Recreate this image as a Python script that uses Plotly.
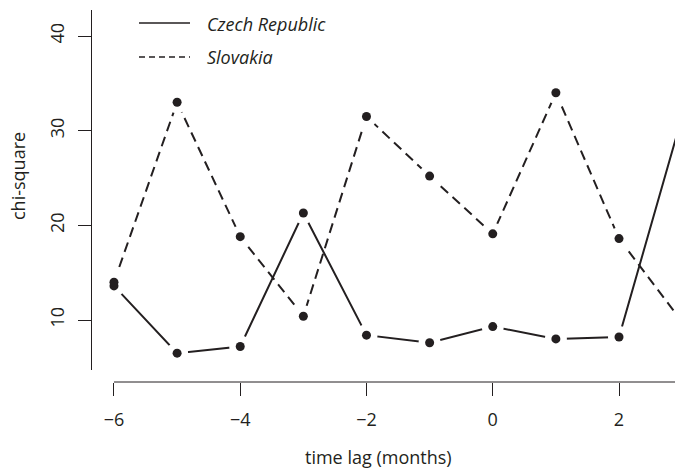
import plotly.graph_objects as go

# ---- data ----
lags = [-6, -5, -4, -3, -2, -1, 0, 1, 2, 3]
czech = [13.6, 6.5, 7.2, 21.3, 8.4, 7.6, 9.3, 8.0, 8.2, 31.5]
slovakia = [14.0, 33.0, 18.8, 10.4, 31.5, 25.2, 19.1, 34.0, 18.6, 9.8]
x_ticks = [-6, -4, -2, 0, 2]
y_ticks = [10, 20, 30, 40]
series_names = ["Czech Republic", "Slovakia"]

INK = "#231f20"
FONT = "Open Sans"
FS = 18

# plot geometry in pixels
W, H = 675, 469
ML, MR, MT, MB = 91, 0, 10, 87
PW = W - ML - MR
PH = H - MT - MB
X_RANGE = [-6.364, 2.887]
Y_RANGE = [4.718, 42.747]


def px(xp):
    return (xp - ML) / PW


def py(yp):
    return (H - MB - yp) / PH


fig = go.Figure()

# lines
fig.add_trace(go.Scatter(x=lags, y=czech, mode="lines", name=series_names[0],
                         line=dict(color=INK, width=2), showlegend=False))
fig.add_trace(go.Scatter(x=lags, y=slovakia, mode="lines", name=series_names[1],
                         line=dict(color=INK, width=2, dash="10px,6px"), showlegend=False))
# white halos to create the gaps around points (R type="b")
for ys in (czech, slovakia):
    fig.add_trace(go.Scatter(x=lags, y=ys, mode="markers", showlegend=False,
                             marker=dict(color="white", size=22, line=dict(width=0)),
                             hoverinfo="skip"))
# points
for ys, nm in ((czech, series_names[0]), (slovakia, series_names[1])):
    fig.add_trace(go.Scatter(x=lags, y=ys, mode="markers", name=nm, showlegend=False,
                             marker=dict(color=INK, size=9, line=dict(width=0))))

# x axis line (from first tick to right edge)
fig.add_shape(type="line", xref="x", yref="paper", x0=x_ticks[0], x1=X_RANGE[1],
              y0=0, y1=0, line=dict(color=INK, width=1))

# legend (manual, R-style)
leg_y = [py(23), py(57)]
for i, nm in enumerate(series_names):
    fig.add_shape(type="line", xref="paper", yref="paper", x0=px(139), x1=px(190),
                  y0=leg_y[i], y1=leg_y[i],
                  line=dict(color=INK, width=1.3, dash="solid" if i == 0 else "6px,4px"))
    fig.add_annotation(xref="paper", yref="paper", x=px(205), y=py(24 + 33 * i),
                       text="<i>%s</i>" % nm,
                       showarrow=False, xanchor="left", yanchor="middle",
                       font=dict(family=FONT, size=FS, color=INK))

# axis titles
fig.add_annotation(xref="paper", yref="paper", x=px(378), y=py(457), text="time lag (months)",
                   showarrow=False, xanchor="center", yanchor="middle",
                   font=dict(family=FONT, size=FS, color=INK))
fig.add_annotation(xref="paper", yref="paper", x=px(18), y=py(176), text="chi-square",
                   showarrow=False, xanchor="center", yanchor="middle", textangle=-90,
                   font=dict(family=FONT, size=FS, color=INK))

fig.update_layout(
    width=W, height=H,
    margin=dict(l=ML, r=MR, t=MT, b=MB),
    paper_bgcolor="white", plot_bgcolor="white",
    showlegend=False,
    font=dict(family=FONT, size=FS, color=INK),
    xaxis=dict(range=X_RANGE, domain=[0, 1], anchor="free", position=0,
               showline=False, showgrid=False, zeroline=False,
               tickmode="array", tickvals=x_ticks, ticks="outside", ticklen=13,
               tickwidth=1, tickcolor=INK, ticklabelstandoff=8,
               tickfont=dict(family=FONT, size=FS, color=INK)),
    yaxis=dict(range=Y_RANGE, domain=[12 / PH, 1], anchor="free", position=0,
               showline=True, linecolor=INK, linewidth=1,
               showgrid=False, zeroline=False,
               tickmode="array", tickvals=y_ticks, ticks="outside", ticklen=13,
               tickwidth=1, tickcolor=INK, tickangle=-90, ticklabelstandoff=7,
               tickfont=dict(family=FONT, size=FS, color=INK)),
)

fig.write_html("out.html", config={"displayModeBar": False},
               post_script="document.body.style.margin='0';document.body.style.overflow='hidden';")
